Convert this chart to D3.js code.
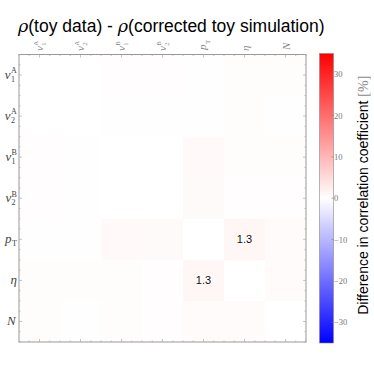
<!DOCTYPE html>
<html><head><meta charset="utf-8">
<script src="https://cdn.jsdelivr.net/npm/d3@7"></script>
<style>
html,body{margin:0;padding:0;background:#fff;}
svg{display:block;}
</style></head>
<body>
<script>
// ---- data ----
const varBase = ["v","v","v","v","p","η","N"];
const varSub  = ["1","2","1","2","T","",""];
const varSup  = ["A","A","B","B","","",""];
const rowV1A = [0.0, 0.0, 0.3, 0.3, 0.1, 0.4, 0.4];
const rowV2A = [0.0, 0.0, 0.1, 0.1, 0.1, 0.4, 0.2];
const rowV1B = [0.3, 0.1, 0.0, 0.0, 0.8, 0.4, 0.4];
const rowV2B = [0.3, 0.1, 0.0, 0.0, 0.7, 0.3, 0.3];
const rowPT  = [0.1, 0.1, 0.8, 0.7, 0.0, 1.3, 0.6];
const rowEta = [0.4, 0.4, 0.4, 0.3, 1.3, 0.0, 0.6];
const rowN   = [0.4, 0.2, 0.4, 0.3, 0.6, 0.6, 0.0];
const colorTicks = [-30,-20,-10,0,10,20,30];
const colorDomain = [-35, 35];

const matrix = [rowV1A,rowV2A,rowV1B,rowV2B,rowPT,rowEta,rowN];
const idx = d3.range(varBase.length);

const W=374,H=374;
const svg = d3.select("body").append("svg").attr("width",W).attr("height",H);

const px0=19, px1=306, py0=54.5, py1=342;
const x = d3.scaleBand().domain(idx).range([px0,px1]);
const y = d3.scaleBand().domain(idx).range([py0,py1]);
const color = d3.scaleLinear().domain([colorDomain[0],0,colorDomain[1]]).range(["#0000ff","#ffffff","#ff0000"]);

// title
const title = svg.append("text").attr("x",18).attr("y",32).attr("font-size",17.5)
  .attr("font-family","Liberation Sans, Arial, sans-serif").attr("fill","#000");
title.append("tspan").attr("font-family","DejaVu Serif, serif").attr("font-style","italic").text("ρ");
title.append("tspan").text("(toy data) - ");
title.append("tspan").attr("font-family","DejaVu Serif, serif").attr("font-style","italic").text("ρ");
title.append("tspan").text("(corrected toy simulation)");

// cells
const cellData = [];
matrix.forEach((row,i)=>row.forEach((v,j)=>cellData.push({i,j,v})));
svg.append("g").selectAll("rect").data(cellData).join("rect")
  .attr("x",d=>x(d.j)).attr("y",d=>y(d.i))
  .attr("width",x.bandwidth()+0.3).attr("height",y.bandwidth()+0.3)
  .attr("fill",d=>color(d.v));
svg.append("g").selectAll("text").data(cellData.filter(d=>Math.abs(d.v)>=1)).join("text")
  .attr("x",d=>x(d.j)+x.bandwidth()/2).attr("y",d=>y(d.i)+y.bandwidth()/2+4)
  .attr("text-anchor","middle").attr("font-size",11)
  .attr("font-family","Liberation Sans, Arial, sans-serif").attr("fill","#111")
  .text(d=>d.v.toFixed(1));

// frame + ticks
const frame = svg.append("g");
frame.append("rect").attr("x",px0).attr("y",py0).attr("width",px1-px0).attr("height",py1-py0)
  .attr("fill","none").attr("stroke","#999").attr("stroke-width",1);
const bw = x.bandwidth(), bh = y.bandwidth();
d3.range(0, 7*4+1).forEach(k=>{
  const len = (k%4===2)?3:1.5;
  const tx = px0 + k*bw/4, ty = py0 + k*bh/4;
  frame.append("line").attr("x1",tx).attr("x2",tx).attr("y1",py0).attr("y2",py0+len).attr("stroke","#aaa").attr("stroke-width",0.7);
  frame.append("line").attr("x1",tx).attr("x2",tx).attr("y1",py1).attr("y2",py1-len).attr("stroke","#aaa").attr("stroke-width",0.7);
  frame.append("line").attr("y1",ty).attr("y2",ty).attr("x1",px0).attr("x2",px0+len).attr("stroke","#aaa").attr("stroke-width",0.7);
  frame.append("line").attr("y1",ty).attr("y2",ty).attr("x1",px1).attr("x2",px1-len).attr("stroke","#aaa").attr("stroke-width",0.7);
});

// label helper: base italic + stacked sub/sup
function mathLabel(g, i, size, fill){
  const base = g.append("text").attr("x",0).attr("y",0).attr("font-size",size)
    .attr("font-family","Liberation Serif, DejaVu Serif, serif").attr("font-style","italic").attr("fill",fill).text(varBase[i]);
  const w = base.node().getComputedTextLength();
  if(varSub[i]) g.append("text").attr("x",w+0.4).attr("y",size*0.28).attr("font-size",size*0.62)
    .attr("font-family","Liberation Serif, DejaVu Serif, serif").attr("fill",fill).text(varSub[i]);
  if(varSup[i]) g.append("text").attr("x",w+0.4).attr("y",-size*0.4).attr("font-size",size*0.62)
    .attr("font-family","Liberation Serif, DejaVu Serif, serif").attr("fill",fill).text(varSup[i]);
  return g.node().getBBox();
}
// left labels
idx.forEach(i=>{
  const g = svg.append("g");
  const bb = mathLabel(g,i,13,"#444");
  g.attr("transform",`translate(${17-bb.width-bb.x},${y(i)+y.bandwidth()/2+3.5})`);
});
// top labels rotated (reading upward, starting just above the frame)
idx.forEach(i=>{
  const g = svg.append("g");
  const inner = g.append("g");
  const bb = mathLabel(inner,i,11,"#888");
  inner.attr("transform",`translate(${-bb.x},${-(bb.y+bb.height/2)})`);
  g.attr("transform",`translate(${x(i)+x.bandwidth()/2},51) rotate(-90)`);
});

// colorbar
const cbx=319.5, cbw=14, cby0=53.5, cby1=343;
const cy = d3.scaleLinear().domain(colorDomain).range([cby1,cby0]);
const defs = svg.append("defs");
const grad = defs.append("linearGradient").attr("id","cb").attr("x1",0).attr("x2",0).attr("y1",1).attr("y2",0);
d3.range(0,1.0001,0.05).forEach(t=>{
  const v = colorDomain[0]+t*(colorDomain[1]-colorDomain[0]);
  grad.append("stop").attr("offset",t).attr("stop-color",color(v));
});
svg.append("rect").attr("x",cbx).attr("y",cby0).attr("width",cbw).attr("height",cby1-cby0)
  .attr("fill","url(#cb)").attr("stroke","#888").attr("stroke-width",0.6);
const cb = svg.append("g");
colorTicks.forEach(t=>{
  cb.append("line").attr("x1",cbx+cbw-2).attr("x2",cbx+cbw).attr("y1",cy(t)).attr("y2",cy(t)).attr("stroke","#777").attr("stroke-width",0.6);
  cb.append("text").attr("x",cbx+cbw+0.5).attr("y",cy(t)+3).attr("font-size",8.5)
    .attr("font-family","Liberation Serif, DejaVu Serif, serif").attr("fill","#777")
    .text(t<0?"\u2212"+Math.abs(t):String(t));
});
const ctitle = svg.append("text").attr("transform",`translate(368,${(cby0+cby1)/2 - 3}) rotate(-90)`)
  .attr("text-anchor","middle").attr("font-size",14).attr("font-family","Liberation Sans, Arial, sans-serif").attr("fill","#000");
ctitle.append("tspan").text("Difference in correlation coefficient ");
ctitle.append("tspan").attr("font-family","Liberation Serif, DejaVu Serif, serif").attr("fill","#888").text("[%]");
</script>
</body></html>
